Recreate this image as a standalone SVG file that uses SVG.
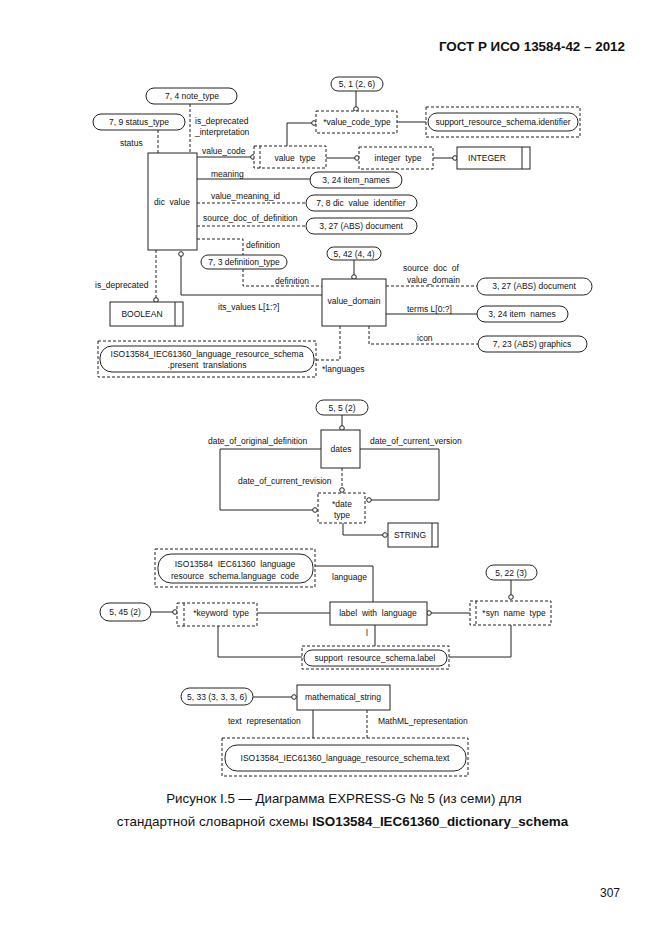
<svg xmlns="http://www.w3.org/2000/svg" width="661" height="935" viewBox="0 0 661 935">
<style>
.s{fill:none;stroke:#222;stroke-width:1}
.d{fill:none;stroke:#222;stroke-width:1;stroke-dasharray:3,2}
.b{fill:#fff;stroke:#222;stroke-width:1}
.db{fill:#fff;stroke:#222;stroke-width:1;stroke-dasharray:3,2}
.p{fill:#fff;stroke:#222;stroke-width:1}
.c{fill:#fff;stroke:#222;stroke-width:1}
text{font-family:"Liberation Sans",Arial,sans-serif;fill:#111}
.t{font-size:8.5px}
.m{text-anchor:middle}
</style>
<rect width="661" height="935" fill="#fff"/>
<text x="625" y="51" font-size="13.4" font-weight="bold" text-anchor="end">ГОСТ Р ИСО 13584-42 – 2012</text>

<g id="connectors">
<line class="d" x1="190" y1="104" x2="190" y2="153"/>
<line class="d" x1="158" y1="130" x2="158" y2="153"/>
<line class="s" x1="197" y1="157" x2="251" y2="157"/><circle class="c" cx="253" cy="157" r="2.3"/>
<polyline class="s" points="287,146 287,123 312,123"/><circle class="c" cx="314" cy="123" r="2.3"/>
<line class="s" x1="356" y1="91" x2="356" y2="108"/><circle class="c" cx="356" cy="109" r="2.3"/>
<line class="s" x1="397" y1="122" x2="426" y2="122"/>
<line class="s" x1="326" y1="158" x2="355" y2="158"/><circle class="c" cx="357" cy="158" r="2.3"/>
<line class="s" x1="433" y1="158" x2="453" y2="158"/><circle class="c" cx="455" cy="158" r="2.3"/>
<line class="s" x1="197" y1="179" x2="310" y2="179"/>
<line class="d" x1="197" y1="203" x2="306" y2="203"/>
<line class="d" x1="197" y1="226" x2="306" y2="226"/>
<polyline class="d" points="197,239 243,239 243,255"/>
<polyline class="d" points="243,269 243,286 322,286"/>
<polyline class="s" points="181,256 181,295 322,295"/><circle class="c" cx="181" cy="254" r="2.3"/>
<line class="d" x1="156" y1="250" x2="156" y2="298"/><circle class="c" cx="156" cy="300" r="2.3"/>
<line class="s" x1="354" y1="260" x2="354" y2="276"/><circle class="c" cx="354" cy="277" r="2.3"/>
<line class="d" x1="386" y1="286" x2="477" y2="286"/>
<line class="s" x1="386" y1="314" x2="477" y2="314"/>
<polyline class="d" points="369,326 369,344 478,344"/>
<polyline class="d" points="340,326 340,360 316,360"/>
<line class="s" x1="342" y1="415" x2="342" y2="427"/><circle class="c" cx="342" cy="428" r="2.3"/>
<polyline class="s" points="321,449 220,449 220,510 313,510"/><circle class="c" cx="315" cy="510" r="2.3"/>
<polyline class="s" points="360,449 439,449 439,500 371,500"/><circle class="c" cx="369" cy="500" r="2.3"/>
<line class="d" x1="342" y1="468" x2="342" y2="488"/><circle class="c" cx="342" cy="490" r="2.3"/>
<polyline class="s" points="343,523 343,535 383,535"/><circle class="c" cx="385" cy="535" r="2.3"/>
<polyline class="s" points="315,566 373,566 373,603"/>
<line class="s" x1="430" y1="613" x2="470" y2="613"/><circle class="c" cx="429" cy="613" r="2.3"/>
<line class="s" x1="511" y1="580" x2="511" y2="596"/><circle class="c" cx="511" cy="597" r="2.3"/>
<polyline class="s" points="511,625 511,657 448,657"/>
<line class="s" x1="375" y1="625" x2="375" y2="646"/>
<line class="s" x1="151" y1="612" x2="173" y2="612"/><circle class="c" cx="175" cy="612" r="2.3"/>
<line class="s" x1="257" y1="613" x2="330" y2="613"/>
<polyline class="s" points="218,626 218,657 302,657"/>
<line class="s" x1="253" y1="697" x2="292" y2="697"/><circle class="c" cx="294" cy="697" r="2.3"/>
<line class="s" x1="313" y1="710" x2="313" y2="738"/>
<line class="d" x1="367" y1="710" x2="367" y2="738"/>
</g>

<g id="labels">
<text class="t" x="120" y="146">status</text>
<text class="t" x="195" y="124">is_deprecated</text>
<text class="t" x="195" y="135">_interpretation</text>
<text class="t" x="202" y="154">value_code</text>
<text class="t" x="211" y="177">meaning</text>
<text class="t" x="211" y="199">value_meaning_id</text>
<text class="t" x="203" y="221">source_doc_of_definition</text>
<text class="t" x="246" y="248">definition</text>
<text class="t" x="275" y="284">definition</text>
<text class="t" x="95" y="288">is_deprecated</text>
<text class="t" x="218" y="310">its_values L[1:?]</text>
<text class="t" x="403" y="271" xml:space="preserve">source  doc  of</text>
<text class="t" x="407" y="283">value_domain</text>
<text class="t" x="407" y="312">terms L[0:?]</text>
<text class="t" x="417" y="341">icon</text>
<text class="t" x="322" y="372">*languages</text>
<text class="t" x="208" y="444">date_of_original_definition</text>
<text class="t" x="370" y="444">date_of_current_version</text>
<text class="t" x="238" y="484">date_of_current_revision</text>
<text class="t" x="332" y="580">language</text>
<text class="t" x="366" y="636">l</text>
<text class="t" x="228" y="724" xml:space="preserve">text  representation</text>
<text class="t" x="378" y="724">MathML_representation</text>
</g>

<g id="n_note_type"><rect class="p" x="146" y="88" width="91" height="16" rx="8"/><text class="t m" x="192" y="99">7, 4 note_type</text></g>
<g id="n_status_type"><rect class="p" x="93" y="114" width="92" height="16" rx="8"/><text class="t m" x="139" y="125">7, 9 status_type</text></g>
<g id="n_ref_5_1"><rect class="p" x="331" y="77" width="52" height="14" rx="7"/><text class="t m" x="357" y="87">5, 1 (2, 6)</text></g>
<g id="n_value_code_type"><rect class="db" x="316" y="111" width="81" height="22"/><text class="t m" x="357" y="125">*value_code_type</text></g>
<g id="n_identifier"><rect class="db" x="426" y="107" width="154" height="30"/><rect class="p" x="428" y="113" width="150" height="18" rx="9"/><text class="t m" x="503" y="125">support_resource_schema.identifier</text></g>
<g id="n_dic_value"><rect class="b" x="148" y="153" width="49" height="97"/><text class="t m" x="172" y="205" xml:space="preserve">dic  value</text></g>
<g id="n_value_type"><rect class="db" x="254" y="146" width="72" height="22"/><line class="d" x1="260" y1="146" x2="260" y2="168"/><text class="t m" x="295" y="161" xml:space="preserve">value  type</text></g>
<g id="n_integer_type"><rect class="db" x="359" y="147" width="74" height="22"/><text class="t m" x="398" y="161" xml:space="preserve">integer  type</text></g>
<g id="n_integer"><rect class="b" x="457" y="147" width="73" height="22"/><line class="s" x1="522" y1="147" x2="522" y2="169"/><text class="t m" x="487" y="161">INTEGER</text></g>
<g id="n_item_names1"><rect class="p" x="310" y="172" width="92" height="16" rx="8"/><text class="t m" x="356" y="183">3, 24 item_names</text></g>
<g id="n_dic_value_identifier"><rect class="p" x="306" y="195" width="111" height="16" rx="8"/><text class="t m" x="361" y="206" xml:space="preserve">7, 8 dic  value  identifier</text></g>
<g id="n_document1"><rect class="p" x="306" y="218" width="111" height="16" rx="8"/><text class="t m" x="361" y="229">3, 27 (ABS) document</text></g>
<g id="n_definition_type"><rect class="p" x="201" y="255" width="86" height="14" rx="7"/><text class="t m" x="244" y="265">7, 3 definition_type</text></g>
<g id="n_ref_5_42"><rect class="p" x="327" y="247" width="54" height="13" rx="6.5"/><text class="t m" x="354" y="257">5, 42 (4, 4)</text></g>
<g id="n_value_domain"><rect class="b" x="322" y="279" width="64" height="47"/><text class="t m" x="354" y="304">value_domain</text></g>
<g id="n_boolean"><rect class="b" x="110" y="302" width="73" height="24"/><line class="s" x1="175" y1="302" x2="175" y2="326"/><text class="t m" x="142" y="317">BOOLEAN</text></g>
<g id="n_document2"><rect class="p" x="477" y="278" width="115" height="17" rx="8.5"/><text class="t m" x="534" y="289">3, 27 (ABS) document</text></g>
<g id="n_item_names2"><rect class="p" x="477" y="306" width="91" height="16" rx="8"/><text class="t m" x="522" y="317" xml:space="preserve">3, 24 item  names</text></g>
<g id="n_graphics"><rect class="p" x="478" y="336" width="109" height="16" rx="8"/><text class="t m" x="532" y="347">7, 23 (ABS) graphics</text></g>
<g id="n_present_translations"><rect class="db" x="98" y="341" width="218" height="36"/><rect class="p" x="100" y="346" width="214" height="26" rx="12"/><text class="t m" x="207" y="357">ISO13584_IEC61360_language_resource_schema</text><text class="t m" x="207" y="368" xml:space="preserve">.present  translations</text></g>

<g id="n_ref_5_5"><rect class="p" x="316" y="400" width="52" height="15" rx="7.5"/><text class="t m" x="342" y="411">5, 5 (2)</text></g>
<g id="n_dates"><rect class="b" x="321" y="430" width="39" height="38"/><text class="t m" x="341" y="452">dates</text></g>
<g id="n_date_type"><rect class="db" x="318" y="493" width="47" height="30"/><text class="t m" x="342" y="507">*date</text><text class="t m" x="342" y="518">type</text></g>
<g id="n_string"><rect class="b" x="388" y="523" width="50" height="24"/><line class="s" x1="432" y1="523" x2="432" y2="547"/><text class="t m" x="410" y="538">STRING</text></g>

<g id="n_language_code"><rect class="db" x="155" y="549" width="160" height="38"/><rect class="p" x="158" y="554" width="155" height="29" rx="13"/><text class="t m" x="235" y="567" xml:space="preserve">ISO13584  IEC61360  language</text><text class="t m" x="235" y="579" xml:space="preserve">resource  schema.language  code</text></g>
<g id="n_label_with_language"><rect class="b" x="330" y="602" width="97" height="23"/><text class="t m" x="378" y="616" xml:space="preserve">label  with  language</text></g>
<g id="n_syn_name_type"><rect class="db" x="470" y="601" width="81" height="24"/><line class="d" x1="476" y1="601" x2="476" y2="625"/><text class="t m" x="514" y="616" xml:space="preserve">*syn  name  type</text></g>
<g id="n_ref_5_22"><rect class="p" x="486" y="565" width="51" height="15" rx="7.5"/><text class="t m" x="511" y="576">5, 22 (3)</text></g>
<g id="n_label"><rect class="db" x="302" y="646" width="147" height="23"/><rect class="p" x="304" y="650" width="143" height="16" rx="8"/><text class="t m" x="375" y="661" xml:space="preserve">support  resource_schema.label</text></g>
<g id="n_ref_5_45"><rect class="p" x="100" y="603" width="51" height="18" rx="9"/><text class="t m" x="125" y="615">5, 45 (2)</text></g>
<g id="n_keyword_type"><rect class="db" x="177" y="603" width="80" height="23"/><line class="d" x1="184" y1="603" x2="184" y2="626"/><text class="t m" x="221" y="616" xml:space="preserve">*keyword  type</text></g>

<g id="n_ref_5_33"><rect class="p" x="181" y="688" width="72" height="17" rx="8.5"/><text class="t m" x="217" y="700">5, 33 (3, 3, 3, 6)</text></g>
<g id="n_mathematical_string"><rect class="b" x="297" y="685" width="93" height="25"/><text class="t m" x="343" y="700">mathematical_string</text></g>
<g id="n_text"><rect class="db" x="222" y="738" width="246" height="38"/><rect class="p" x="225" y="745" width="241" height="26" rx="12"/><text class="t m" x="345" y="761">ISO13584_IEC61360_language_resource_schema.text</text></g>

<text x="344" y="803" font-size="13.3" text-anchor="middle">Рисунок I.5 — Диаграмма EXPRESS-G № 5 (из семи) для</text>
<text x="342.5" y="826" font-size="13.4" text-anchor="middle">стандартной словарной схемы <tspan font-weight="bold">ISO13584_IEC61360_dictionary_schema</tspan></text>
<text x="620" y="897" font-size="12" text-anchor="end">307</text>
</svg>
